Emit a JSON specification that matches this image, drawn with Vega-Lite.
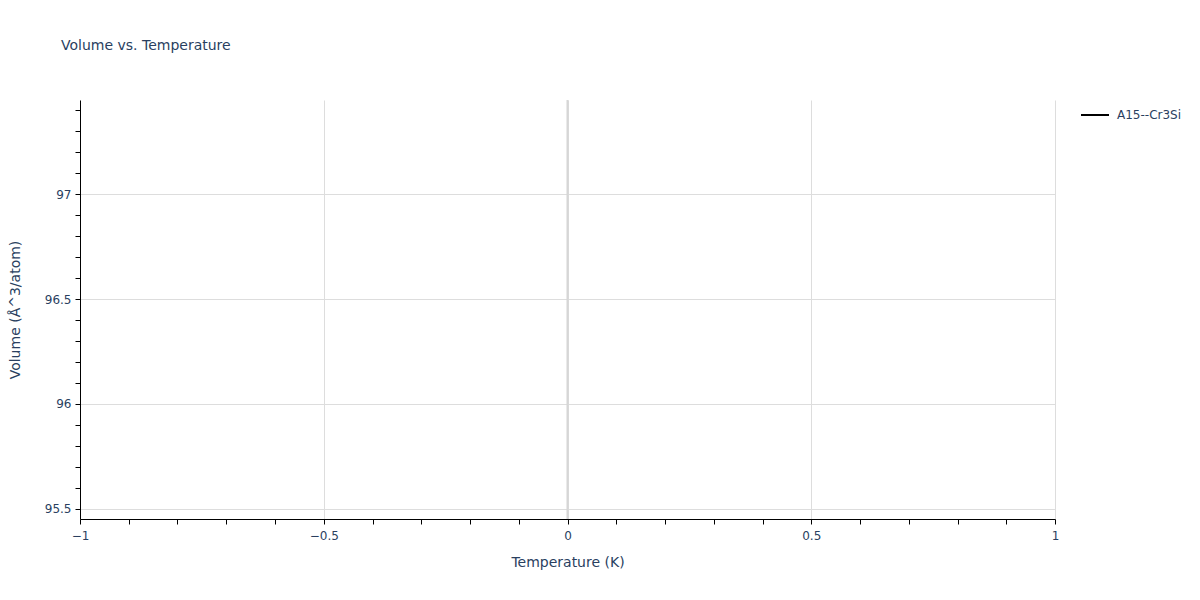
{
  "$schema": "https://vega.github.io/schema/vega-lite/v6.json",
  "autosize": "none",
  "width": 975,
  "height": 419,
  "padding": {"left": 80, "top": 100, "right": 145, "bottom": 81},
  "background": "white",
  "config": {
    "font": "DejaVu Sans",
    "view": {"stroke": null},
    "axis": {
      "labelFont": "DejaVu Sans",
      "titleFont": "DejaVu Sans",
      "labelColor": "#2a3f5f",
      "titleColor": "#2a3f5f",
      "labelFontSize": 12,
      "titleFontSize": 14,
      "titleFontWeight": "normal",
      "gridColor": "#dddddd",
      "gridWidth": 1,
      "domainColor": "#000000",
      "tickColor": "#000000",
      "tickSize": 5,
      "labelFlush": false
    }
  },
  "title": {
    "text": "Volume vs. Temperature",
    "anchor": "start",
    "frame": "group",
    "dx": -19,
    "offset": 46,
    "fontSize": 14,
    "fontWeight": "normal",
    "font": "DejaVu Sans",
    "color": "#2a3f5f"
  },
  "data": {
    "values": [
      {"temperature": 0, "volume": 96.45, "material": "A15--Cr3Si"}
    ]
  },
  "layer": [
    {
      "mark": {"type": "rule", "color": "#d6d6d6", "strokeWidth": 2},
      "encoding": {
        "x": {"datum": 0, "type": "quantitative", "axis": null}
      }
    },
    {
      "mark": {"type": "line", "strokeWidth": 2},
      "encoding": {
        "x": {
          "field": "temperature",
          "type": "quantitative",
          "scale": {"domain": [-1, 1], "nice": false, "zero": false},
          "axis": {
            "orient": "bottom",
            "title": "Temperature (K)",
            "values": [-1, -0.5, 0, 0.5, 1],
            "format": "~g",
            "grid": true,
            "labelPadding": 6,
            "titlePadding": 14
          }
        },
        "y": {
          "field": "volume",
          "type": "quantitative",
          "scale": {"domain": [95.452, 97.448], "nice": false, "zero": false},
          "axis": {
            "orient": "left",
            "title": "Volume (Å^3/atom)",
            "values": [95.5, 96, 96.5, 97],
            "format": "~g",
            "grid": true,
            "labelPadding": 4,
            "titlePadding": 22
          }
        },
        "color": {
          "field": "material",
          "type": "nominal",
          "scale": {"domain": ["A15--Cr3Si"], "range": ["#000000"]},
          "legend": {
            "title": null,
            "orient": "none",
            "legendX": 1000,
            "legendY": 0,
            "symbolType": "stroke",
            "symbolSize": 784,
            "symbolStrokeWidth": 2,
            "labelFontSize": 12,
            "labelColor": "#2a3f5f",
            "labelFont": "DejaVu Sans",
            "labelOffset": 7
          }
        }
      }
    },
    {
      "mark": {"type": "point", "opacity": 0},
      "encoding": {
        "x": {
          "field": "temperature",
          "type": "quantitative",
          "axis": {
            "orient": "bottom",
            "title": null,
            "labels": false,
            "grid": false,
            "domain": false,
            "values": [-0.9, -0.8, -0.7, -0.6, -0.4, -0.3, -0.2, -0.1, 0.1, 0.2, 0.3, 0.4, 0.6, 0.7, 0.8, 0.9]
          }
        },
        "y": {
          "field": "volume",
          "type": "quantitative",
          "axis": {
            "orient": "left",
            "title": null,
            "labels": false,
            "grid": false,
            "domain": false,
            "values": [95.6, 95.7, 95.8, 95.9, 96.1, 96.2, 96.3, 96.4, 96.6, 96.7, 96.8, 96.9, 97.1, 97.2, 97.3, 97.4]
          }
        }
      }
    }
  ],
  "resolve": {"axis": {"x": "independent", "y": "independent"}}
}
